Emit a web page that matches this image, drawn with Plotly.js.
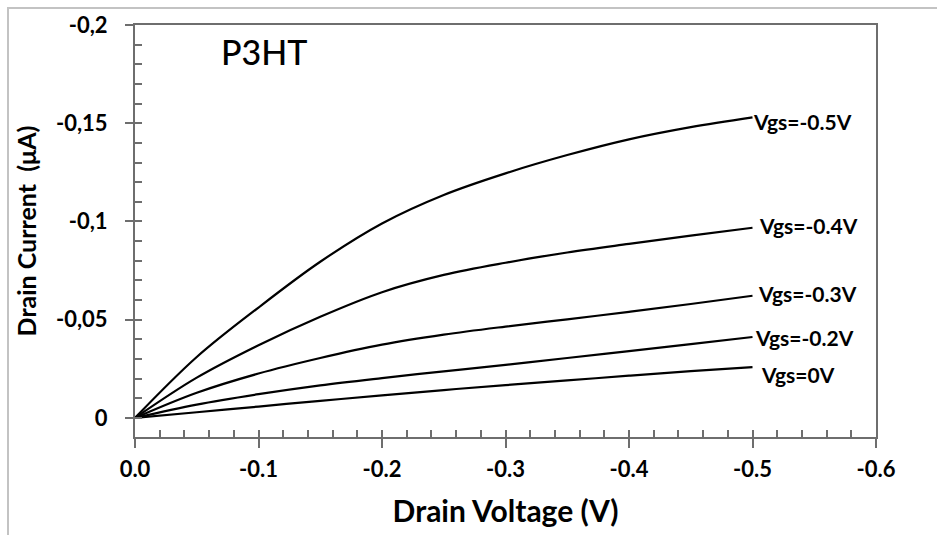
<!DOCTYPE html>
<html>
<head>
<meta charset="utf-8">
<script src="https://cdn.plot.ly/plotly-3.0.1.min.js"></script>
<style>
  html, body { margin: 0; padding: 0; background: #fff; }
  #wrap { position: relative; width: 937px; height: 535px; }
  #chart { position: absolute; left: 0; top: 0; width: 937px; height: 535px; }
  .frameTop { position: absolute; left: 7px; top: 7px; width: 930px; height: 2px; background: #c3c3c3; z-index: 5; }
  .frameLeft { position: absolute; left: 7px; top: 7px; width: 2px; height: 528px; background: #c3c3c3; z-index: 5; }
</style>
</head>
<body>
<div id="wrap">
  <div id="chart"></div>
  <div class="frameTop"></div>
  <div class="frameLeft"></div>
</div>
<script>
// Drain voltage (V)
const drainVoltage = [0, -0.05, -0.1, -0.15, -0.2, -0.25, -0.3, -0.35, -0.4, -0.45, -0.5];
// Drain current (uA) per gate voltage
const idVgsM05 = [0, -0.0310, -0.0562, -0.0795, -0.0990, -0.1135, -0.1245, -0.1338, -0.1418, -0.1480, -0.1530];
const idVgsM04 = [0, -0.0205, -0.0370, -0.0515, -0.0640, -0.0728, -0.0790, -0.0842, -0.0886, -0.0928, -0.0968];
const idVgsM03 = [0, -0.0128, -0.0226, -0.0305, -0.0373, -0.0424, -0.0465, -0.0502, -0.0540, -0.0580, -0.0622];
const idVgsM02 = [0, -0.0068, -0.0121, -0.0166, -0.0203, -0.0237, -0.0270, -0.0305, -0.0340, -0.0376, -0.0412];
const idVgs0   = [0, -0.0029, -0.0058, -0.0087, -0.0115, -0.0142, -0.0167, -0.0191, -0.0215, -0.0238, -0.0259];

const seriesNames = ['Vgs=-0.5V', 'Vgs=-0.4V', 'Vgs=-0.3V', 'Vgs=-0.2V', 'Vgs=0V'];
const seriesValues = [idVgsM05, idVgsM04, idVgsM03, idVgsM02, idVgs0];

const xTickVals = [0, -0.1, -0.2, -0.3, -0.4, -0.5, -0.6];
const xTickText = ['0.0', '-0.1', '-0.2', '-0.3', '-0.4', '-0.5', '-0.6'];
const yTickVals = [0, -0.05, -0.1, -0.15, -0.2];
const yTickText = ['0', '-0,05', '-0,1', '-0,15', '-0,2'];

const chartTitle = 'P3HT';
const xTitle = 'Drain Voltage (V)';
const yTitle = 'Drain Current  (\u03bcA)';

// label offsets (px) for curve-end labels
const labelXShift = [-2, 4, 3, 0, 6];
const labelYShift = [-4, 2, 2, 0, -7];

const FONT = 'Lato, "Open Sans", "DejaVu Sans", sans-serif';
const AX = '#6e6e6e';
const xRange = [0, -0.6];
const yRange = [0.0097, -0.2];

const traces = seriesValues.map((vals, i) => ({
  x: drainVoltage, y: vals, type: 'scatter', mode: 'lines',
  name: seriesNames[i],
  line: { color: '#000', width: 2.2, shape: 'spline', smoothing: 1 },
  hoverinfo: 'skip', showlegend: false
}));
// invisible trace on overlay axes so the inner tick marks are drawn
traces.push({ x: drainVoltage, y: idVgs0, xaxis: 'x2', yaxis: 'y2', type: 'scatter', mode: 'lines',
  line: { width: 0, color: 'rgba(0,0,0,0)' }, hoverinfo: 'skip', showlegend: false });

const annotations = seriesNames.map((n, i) => {
  const vals = seriesValues[i];
  return {
    x: drainVoltage[drainVoltage.length - 1], y: vals[vals.length - 1],
    xref: 'x', yref: 'y', text: n, showarrow: false,
    xanchor: 'left', yanchor: 'middle', xshift: labelXShift[i], yshift: labelYShift[i],
    font: { family: FONT, size: 21, color: '#000', weight: 700 }
  };
});
annotations.push({
  text: chartTitle, xref: 'paper', yref: 'paper', x: 0.174, y: 0.935,
  xanchor: 'center', yanchor: 'middle', showarrow: false,
  font: { family: FONT, size: 34, color: '#000', weight: 500 }
});

const layout = {
  width: 937, height: 535,
  margin: { l: 135, r: 61, t: 25, b: 98 },
  paper_bgcolor: '#fff', plot_bgcolor: '#fff',
  showlegend: false,
  xaxis: {
    range: xRange, showgrid: false, zeroline: false,
    showline: true, linecolor: AX, linewidth: 2, mirror: true,
    ticks: 'outside', ticklen: 9, tickwidth: 2, tickcolor: AX,
    tickvals: xTickVals, ticktext: xTickText, ticklabelstandoff: 3,
    tickfont: { family: FONT, size: 22, color: '#000', weight: 700 },
    title: { text: xTitle, standoff: 20, font: { family: FONT, size: 30, color: '#000', weight: 700 } }
  },
  yaxis: {
    range: yRange, showgrid: false, zeroline: false,
    showline: true, linecolor: AX, linewidth: 2, mirror: true,
    ticks: 'outside', ticklen: 8, tickwidth: 2, tickcolor: AX,
    tickvals: yTickVals, ticktext: yTickText, ticklabelstandoff: 13,
    tickfont: { family: FONT, size: 22, color: '#000', weight: 700 },
    title: { text: yTitle, standoff: 12, font: { family: FONT, size: 25, color: '#000', weight: 700 } }
  },
  xaxis2: {
    overlaying: 'x', anchor: 'y', side: 'bottom', range: xRange,
    showgrid: false, zeroline: false, showline: false, showticklabels: false,
    ticks: 'inside', ticklen: 7, tickwidth: 2, tickcolor: AX, dtick: 0.02, tick0: 0
  },
  yaxis2: {
    overlaying: 'y', anchor: 'x', side: 'left', range: yRange,
    showgrid: false, zeroline: false, showline: false, showticklabels: false,
    ticks: 'inside', ticklen: 7, tickwidth: 2, tickcolor: AX, dtick: 0.01, tick0: 0
  },
  annotations: annotations
};

Plotly.newPlot('chart', traces, layout, { staticPlot: true, displayModeBar: false });
</script>
</body>
</html>
